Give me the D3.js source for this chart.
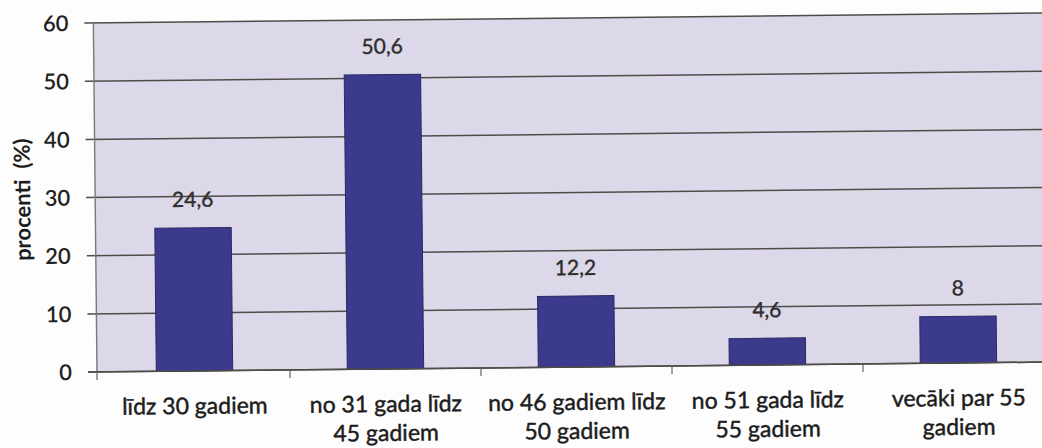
<!DOCTYPE html>
<html>
<head>
<meta charset="utf-8">
<script src="https://cdn.jsdelivr.net/npm/d3@7"></script>
<style>
  html, body { margin: 0; padding: 0; background: #fdfdfd; }
  svg { display: block; }
  text { font-family: Lato, "Open Sans", "DejaVu Sans", sans-serif; }
</style>
</head>
<body>
<svg id="chart" width="1042" height="448"></svg>
<script>
// Age groups (one array entry per category, split into label lines)
const categories = [
  ["līdz 30 gadiem"],
  ["no 31 gada līdz", "45 gadiem"],
  ["no 46 gadiem līdz", "50 gadiem"],
  ["no 51 gada līdz", "55 gadiem"],
  ["vecāki par 55", "gadiem"]
];
const values = [24.6, 50.6, 12.2, 4.6, 8];
const yTicks = [0, 10, 20, 30, 40, 50, 60];
const yTitle = "procenti\u00a0\u00a0(%)";

(function () {
const svg = d3.select("#chart");

// Plot frame
const plotLeft = 97, plotRight = 1054, plotTop = 23, plotBottom = 372;

const x = d3.scaleBand()
  .domain(d3.range(categories.length))
  .range([99, plotRight])
  .paddingInner(0.6)
  .paddingOuter(0.3);

const xTickScale = d3.scaleLinear()
  .domain([0, categories.length])
  .range([99, plotRight]);

const y = d3.scaleLinear().domain([0, 60]).range([plotBottom, plotTop]);

const lv = d3.formatLocale({ decimal: ",", thousands: " ", grouping: [3], currency: ["", ""] });
const fmt = v => Number.isInteger(v) ? String(v) : lv.format(".1f")(v);

// the whole page is printed slightly askew
const g = svg.append("g").attr("transform", `rotate(-0.6, ${plotLeft}, ${plotBottom})`);

// plot background
g.append("rect")
  .attr("x", plotLeft).attr("y", plotTop)
  .attr("width", plotRight - plotLeft + 10).attr("height", plotBottom - plotTop)
  .attr("fill", "#dcd8e9");

// horizontal gridlines with left ticks
g.append("g")
  .selectAll("line")
  .data(yTicks)
  .join("line")
  .attr("x1", plotLeft - 9).attr("x2", plotRight + 10)
  .attr("y1", d => y(d)).attr("y2", d => y(d))
  .attr("stroke", "#4f4c48").attr("stroke-width", 1.5);

// y-axis tick labels
g.append("g")
  .selectAll("text")
  .data(yTicks)
  .join("text")
  .attr("x", plotLeft - 25).attr("y", d => y(d))
  .attr("dy", "0.36em")
  .attr("text-anchor", "end")
  .attr("font-size", 22)
  .attr("font-weight", 600)
  .attr("fill", "#222222")
  .text(d => d);

// y axis line
g.append("line")
  .attr("x1", plotLeft).attr("x2", plotLeft)
  .attr("y1", plotTop).attr("y2", plotBottom + 8)
  .attr("stroke", "#7a7878").attr("stroke-width", 1.4);

// x-axis category ticks
g.append("g")
  .selectAll("line")
  .data(d3.range(1, categories.length))
  .join("line")
  .attr("x1", d => xTickScale(d)).attr("x2", d => xTickScale(d))
  .attr("y1", plotBottom).attr("y2", plotBottom + 8)
  .attr("stroke", "#7a7878").attr("stroke-width", 1.4);

// bars
g.append("g")
  .selectAll("rect")
  .data(values)
  .join("rect")
  .attr("x", (d, i) => x(i))
  .attr("y", d => y(d))
  .attr("width", x.bandwidth())
  .attr("height", d => y(0) - y(d))
  .attr("fill", "#3c3a8c")
  .attr("stroke", "#2a2963")
  .attr("stroke-width", 1);

// value labels
g.append("g")
  .selectAll("text")
  .data(values)
  .join("text")
  .attr("x", (d, i) => x(i) + x.bandwidth() / 2)
  .attr("y", d => y(d) - 21)
  .attr("text-anchor", "middle")
  .attr("font-size", 21)
  .attr("fill", "#2e2e2e")
  .attr("stroke", "#2e2e2e")
  .attr("stroke-width", 0.4)
  .text(d => fmt(d));

// category labels
const catG = g.append("g")
  .selectAll("text")
  .data(categories)
  .join("text")
  .attr("x", (d, i) => x(i) + x.bandwidth() / 2)
  .attr("y", 415)
  .attr("text-anchor", "middle")
  .attr("font-size", 23)
  .attr("fill", "#1c1c1c")
  .attr("stroke", "#1c1c1c")
  .attr("stroke-width", 0.45);
catG.selectAll("tspan")
  .data(d => d)
  .join("tspan")
  .attr("x", function () { return d3.select(this.parentNode).attr("x"); })
  .attr("dy", (d, i) => i === 0 ? 0 : 29)
  .text(d => d);

// x axis baseline
g.append("line")
  .attr("x1", plotLeft - 9).attr("x2", plotRight + 10)
  .attr("y1", plotBottom).attr("y2", plotBottom)
  .attr("stroke", "#4f4c48").attr("stroke-width", 1.5);

// y-axis title
g.append("text")
  .attr("transform", `translate(32, 199) rotate(-90)`)
  .attr("text-anchor", "middle")
  .attr("font-size", 22)
  .attr("font-weight", 700)
  .attr("fill", "#1c1c1c")
  .text(yTitle);
})();
</script>
</body>
</html>
